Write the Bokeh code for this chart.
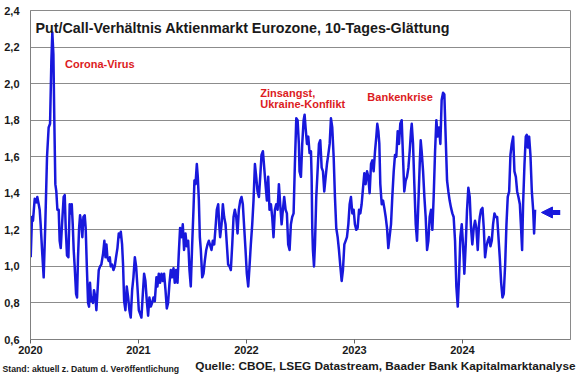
from bokeh.plotting import figure
from bokeh.layouts import column
from bokeh.models import (Label, Arrow, NormalHead, FixedTicker, CustomJSTickFormatter,
                          Range1d, ColumnDataSource)
from bokeh.embed import file_html
from bokeh.resources import INLINE

# ---------------- data (decimal year, put/call ratio, 10-day smoothing) ----------------
dates_2020 = [2020.002, 2020.014, 2020.023, 2020.039, 2020.054, 2020.063, 2020.076, 2020.085, 2020.094, 2020.107,
              2020.122, 2020.137, 2020.153, 2020.168, 2020.181, 2020.193, 2020.202, 2020.212, 2020.221, 2020.230,
              2020.239, 2020.249, 2020.261, 2020.270, 2020.280, 2020.292, 2020.307, 2020.317, 2020.326, 2020.338,
              2020.351, 2020.363, 2020.372, 2020.382, 2020.391, 2020.400, 2020.409, 2020.422, 2020.431, 2020.440,
              2020.450, 2020.459, 2020.471, 2020.480, 2020.490, 2020.502, 2020.511, 2020.521, 2020.533, 2020.542,
              2020.551, 2020.561, 2020.570, 2020.579, 2020.588, 2020.601, 2020.610, 2020.619, 2020.632, 2020.644,
              2020.656, 2020.672, 2020.684, 2020.694, 2020.703, 2020.712, 2020.724, 2020.734, 2020.743, 2020.755,
              2020.768, 2020.780, 2020.792, 2020.805, 2020.817]
values_2020 = [1.05, 1.27, 1.25, 1.37, 1.35, 1.38, 1.34, 1.31, 1.23, 1.09,
               0.94, 1.23, 1.60, 1.76, 1.78, 2.12, 2.28, 2.16, 1.78, 1.45,
               1.41, 1.31, 1.31, 1.14, 1.10, 1.23, 1.38, 1.39, 1.21, 1.06,
               1.05, 1.34, 1.29, 1.34, 1.23, 1.09, 1.00, 0.85, 0.83, 1.05,
               1.21, 1.28, 1.23, 1.16, 1.27, 1.28, 1.21, 1.01, 0.80, 0.78,
               0.91, 0.81, 0.83, 0.80, 0.87, 0.83, 0.76, 0.85, 0.98, 1.00,
               1.01, 1.07, 1.14, 1.05, 1.12, 1.05, 1.03, 1.05, 1.00, 1.01,
               0.98, 1.00, 1.05, 1.10, 1.18]

dates_2021a = [2020.826, 2020.836, 2020.848, 2020.857, 2020.867, 2020.879, 2020.891, 2020.904, 2020.916, 2020.928,
               2020.941, 2020.953, 2020.966, 2020.978, 2020.990, 2021.003, 2021.015, 2021.027, 2021.040, 2021.052,
               2021.064, 2021.077, 2021.089, 2021.101, 2021.114, 2021.126, 2021.138, 2021.151, 2021.166, 2021.175,
               2021.188, 2021.200, 2021.213, 2021.225, 2021.237, 2021.250, 2021.262, 2021.274, 2021.287, 2021.299,
               2021.311, 2021.324, 2021.336, 2021.348, 2021.361, 2021.373, 2021.385, 2021.398, 2021.410, 2021.422,
               2021.435, 2021.447, 2021.460, 2021.472, 2021.484, 2021.497, 2021.509, 2021.518, 2021.528, 2021.540,
               2021.549, 2021.559, 2021.568, 2021.577, 2021.590, 2021.602, 2021.614, 2021.627, 2021.639, 2021.651]
values_2021a = [1.16, 1.19, 1.12, 1.01, 0.81, 0.76, 0.89, 0.83, 0.76, 0.72,
                0.87, 0.94, 1.05, 1.00, 0.89, 0.76, 0.74, 0.72, 0.85, 0.96,
                0.92, 0.81, 0.73, 0.83, 0.78, 0.80, 0.83, 0.81, 0.94, 0.89,
                0.96, 0.91, 0.96, 0.92, 0.96, 0.87, 0.77, 0.80, 0.91, 0.98,
                0.94, 0.99, 0.91, 0.98, 0.91, 1.07, 1.21, 1.16, 1.23, 1.09,
                1.18, 1.11, 1.14, 0.98, 0.89, 1.12, 1.31, 1.47, 1.45, 1.56,
                1.49, 1.36, 1.16, 1.09, 0.94, 0.96, 1.03, 1.09, 1.12, 1.14]

dates_2022a = [2021.661, 2021.676, 2021.688, 2021.701, 2021.713, 2021.725, 2021.738, 2021.747, 2021.756, 2021.769,
               2021.781, 2021.793, 2021.806, 2021.818, 2021.830, 2021.843, 2021.855, 2021.868, 2021.880, 2021.892,
               2021.905, 2021.917, 2021.929, 2021.942, 2021.954, 2021.966, 2021.979, 2021.991,
               2022.003, 2022.016, 2022.028, 2022.040, 2022.053, 2022.065, 2022.078, 2022.090, 2022.102, 2022.115,
               2022.127, 2022.139, 2022.152, 2022.164, 2022.176, 2022.189, 2022.201, 2022.213, 2022.226, 2022.238,
               2022.250, 2022.263, 2022.275, 2022.288, 2022.300, 2022.312, 2022.325, 2022.337, 2022.349, 2022.362,
               2022.374, 2022.386, 2022.399, 2022.411, 2022.423, 2022.436, 2022.448, 2022.461, 2022.473, 2022.485]
values_2022a = [1.12, 1.09, 1.14, 1.12, 1.21, 1.31, 1.34, 1.23, 1.16, 1.23,
                1.34, 1.27, 1.23, 1.12, 1.01, 1.00, 0.98, 1.12, 1.27, 1.31,
                1.27, 1.18, 1.31, 1.36, 1.38, 1.34, 1.21, 1.09,
                0.96, 0.89, 1.00, 1.12, 1.23, 1.36, 1.56, 1.49, 1.41, 1.38,
                1.49, 1.61, 1.63, 1.54, 1.45, 1.36, 1.49, 1.31, 1.34, 1.27,
                1.16, 1.31, 1.34, 1.31, 1.45, 1.34, 1.23, 1.31, 1.38, 1.31,
                1.29, 1.12, 1.09, 1.23, 1.27, 1.29, 1.56, 1.81, 1.80, 1.67]

dates_2023a = [2022.491, 2022.504, 2022.516, 2022.529, 2022.538, 2022.547, 2022.560, 2022.572, 2022.584, 2022.597,
               2022.603, 2022.609, 2022.615, 2022.625, 2022.634, 2022.646, 2022.658, 2022.671, 2022.683, 2022.696,
               2022.708, 2022.720, 2022.733, 2022.745, 2022.757, 2022.770, 2022.782, 2022.794, 2022.807, 2022.819,
               2022.831, 2022.844, 2022.856, 2022.869, 2022.881, 2022.893, 2022.906, 2022.918, 2022.930, 2022.943,
               2022.955, 2022.967, 2022.980, 2022.992,
               2023.004, 2023.017, 2023.029, 2023.042, 2023.054, 2023.066, 2023.079, 2023.091, 2023.103, 2023.116,
               2023.128, 2023.140, 2023.153, 2023.165, 2023.177, 2023.190, 2023.202, 2023.211, 2023.221, 2023.230,
               2023.239, 2023.252, 2023.264, 2023.276, 2023.289, 2023.301, 2023.313]
values_2023a = [1.52, 1.49, 1.67, 1.80, 1.83, 1.76, 1.67, 1.71, 1.62, 1.63,
                1.49, 1.21, 1.09, 1.00, 1.12, 1.38, 1.52, 1.67, 1.69, 1.54,
                1.52, 1.41, 1.49, 1.56, 1.61, 1.67, 1.81, 1.76, 1.60, 1.38,
                1.21, 1.16, 1.09, 1.00, 0.92, 0.98, 1.12, 1.14, 1.16, 1.23,
                1.34, 1.38, 1.29, 1.31,
                1.23, 1.20, 1.21, 1.31, 1.29, 1.34, 1.43, 1.51, 1.45, 1.52,
                1.49, 1.40, 1.56, 1.58, 1.52, 1.63, 1.71, 1.78, 1.74, 1.67,
                1.45, 1.34, 1.36, 1.32, 1.27, 1.21, 1.10]

dates_2024a = [2023.338, 2023.350, 2023.363, 2023.375, 2023.387, 2023.400, 2023.412, 2023.424, 2023.437, 2023.449,
               2023.461, 2023.474, 2023.486, 2023.499, 2023.511, 2023.523, 2023.530, 2023.542, 2023.554, 2023.567,
               2023.579, 2023.591, 2023.604, 2023.613, 2023.622, 2023.635, 2023.647, 2023.659, 2023.672, 2023.684,
               2023.696, 2023.709, 2023.721, 2023.733, 2023.746, 2023.758, 2023.770, 2023.783, 2023.795, 2023.807,
               2023.820, 2023.832, 2023.844, 2023.857, 2023.869, 2023.881, 2023.894, 2023.906, 2023.918, 2023.931,
               2023.943, 2023.956, 2023.968, 2023.980, 2023.993,
               2024.005, 2024.017, 2024.030, 2024.042, 2024.054, 2024.067, 2024.079, 2024.091, 2024.104, 2024.116,
               2024.128, 2024.141, 2024.153]
values_2024a = [1.23, 1.38, 1.52, 1.61, 1.60, 1.74, 1.67, 1.78, 1.80, 1.60,
                1.41, 1.47, 1.49, 1.54, 1.63, 1.74, 1.78, 1.67, 1.45, 1.23,
                1.14, 1.34, 1.56, 1.69, 1.63, 1.52, 1.38, 1.27, 1.09, 1.14,
                1.27, 1.31, 1.20, 1.38, 1.63, 1.80, 1.71, 1.76, 1.67, 1.91,
                1.95, 1.94, 1.71, 1.47, 1.41, 1.36, 1.32, 1.29, 1.27, 1.14,
                0.89, 0.78, 0.94, 1.16, 1.23,
                1.12, 0.96, 1.12, 1.31, 1.43, 1.38, 1.21, 1.12, 1.21, 1.25,
                1.21, 1.09, 1.23]

dates_2024b = [2024.160, 2024.172, 2024.185, 2024.197, 2024.209, 2024.222, 2024.234, 2024.246, 2024.259, 2024.271,
               2024.283, 2024.296, 2024.308, 2024.321, 2024.333, 2024.345, 2024.358, 2024.370, 2024.382, 2024.395,
               2024.407, 2024.419, 2024.432, 2024.444, 2024.456, 2024.469, 2024.481, 2024.494, 2024.506, 2024.518,
               2024.531, 2024.543, 2024.552, 2024.561, 2024.574, 2024.586, 2024.595, 2024.605, 2024.617, 2024.629,
               2024.642, 2024.654, 2024.663, 2024.672]
values_2024b = [1.27, 1.31, 1.32, 1.21, 1.05, 1.11, 1.14, 1.16, 1.11, 1.14,
                1.23, 1.29, 1.27, 1.27, 1.16, 1.05, 0.91, 0.83, 0.85, 1.01,
                1.23, 1.38, 1.41, 1.61, 1.67, 1.71, 1.52, 1.49, 1.41, 1.38,
                1.34, 1.20, 1.09, 1.34, 1.56, 1.71, 1.72, 1.65, 1.71, 1.61,
                1.41, 1.31, 1.18, 1.31]

year_ticks = [2020, 2021, 2022, 2023, 2024]
y_ticks = [0.6, 0.8, 1.0, 1.2, 1.4, 1.6, 1.8, 2.0, 2.2, 2.4]

title_text = "Put/Call-Verhältnis Aktienmarkt Eurozone, 10-Tages-Glättung"
source_text = "Quelle: CBOE, LSEG Datastream, Baader Bank Kapitalmarktanalyse"
stand_text = "Stand: aktuell z. Datum d. Veröffentlichung"

# annotations: (text lines, x date, y level)
notes = [
    (["Corona-Virus"], 2020.320, 2.108),
    (["Zinsangst,", "Ukraine-Konflikt"], 2022.127, 1.950),
    (["Bankenkrise"], 2023.119, 1.928),
]
arrow_from, arrow_to, arrow_level = 2024.905, 2024.731, 1.295

# ---------------- build ----------------
dates, values = [], []
for d, v in [(dates_2020, values_2020), (dates_2021a, values_2021a), (dates_2022a, values_2022a),
             (dates_2023a, values_2023a), (dates_2024a, values_2024a), (dates_2024b, values_2024b)]:
    n = min(len(d), len(v))
    dates += d[:n]
    values += v[:n]

BLUE = "#1818dc"
RED = "#dc1b22"
FONT = "Liberation Sans"
TXT = "#1a1a1a"

src = ColumnDataSource(dict(t=dates, v=values))

p = figure(width=580, height=358, output_backend="svg", toolbar_location=None,
           x_range=Range1d(2020, 2025), y_range=Range1d(0.6, 2.4),
           min_border_left=30, min_border_right=10, min_border_top=10, min_border_bottom=19)
p.background_fill_color = "white"
p.border_fill_color = "white"
p.outline_line_color = "#8a8a8a"
p.outline_line_width = 1

p.line(x="t", y="v", source=src, line_color=BLUE, line_width=2.5, line_join="round")

# axes
p.xaxis.ticker = FixedTicker(ticks=year_ticks)
p.xaxis.formatter = CustomJSTickFormatter(code="return tick.toFixed(0)")
p.xaxis.major_tick_out = 4
p.xaxis.major_tick_in = 0
p.xaxis.minor_tick_line_color = None
p.xaxis.major_tick_line_color = "#606060"
p.xaxis.axis_line_color = "#808080"
p.xaxis.major_label_standoff = 2

p.yaxis.ticker = FixedTicker(ticks=y_ticks)
p.yaxis.formatter = CustomJSTickFormatter(code="return tick.toFixed(1).replace('.', ',')")
p.yaxis.major_tick_line_color = None
p.yaxis.minor_tick_line_color = None
p.yaxis.axis_line_color = "#808080"
p.yaxis.major_label_standoff = 5

for ax in (p.xaxis, p.yaxis):
    ax.major_label_text_font = FONT
    ax.major_label_text_font_style = "bold"
    ax.major_label_text_font_size = "11px"
    ax.major_label_text_color = TXT

p.xgrid.visible = False
p.ygrid.ticker = FixedTicker(ticks=y_ticks)
p.ygrid.grid_line_color = "#8c8c8c"
p.ygrid.grid_line_width = 1

# title inside frame (screen units relative to frame)
p.add_layout(Label(x=5, y=312, x_units="screen", y_units="screen", text=title_text,
                   text_font=FONT, text_font_style="bold", text_font_size="14.3px",
                   text_color=TXT, text_baseline="alphabetic"))

# red annotations
for lines, xd, yv in notes:
    for i, line in enumerate(lines):
        p.add_layout(Label(x=xd, y=yv, y_offset=-11 * i, text=line, text_font=FONT,
                           text_font_style="bold", text_font_size="11px", text_color=RED,
                           text_baseline="middle", text_align="left"))

# arrow at the right
p.add_layout(Arrow(end=NormalHead(size=11, fill_color=BLUE, line_color=BLUE, line_width=1),
                   x_start=arrow_from, y_start=arrow_level, x_end=arrow_to, y_end=arrow_level,
                   line_color=BLUE, line_width=5))

# footer strip (separate small figure so the texts are not clipped)
foot = figure(width=580, height=17, output_backend="svg", toolbar_location=None,
              x_range=Range1d(0, 1), y_range=Range1d(0, 1),
              x_axis_location=None, y_axis_location=None,
              min_border_left=0, min_border_right=0, min_border_top=0, min_border_bottom=0)
try:
    foot.frame_align = False
except Exception:
    pass
foot.outline_line_color = None
foot.grid.visible = False
foot.background_fill_color = "white"
foot.border_fill_color = "white"
foot.add_layout(Label(x=2, y=7, x_units="screen", y_units="screen", text=stand_text,
                      text_font=FONT, text_font_style="bold", text_font_size="8.7px",
                      text_color=TXT, text_baseline="middle", text_align="left"))
foot.add_layout(Label(x=575, y=10, x_units="screen", y_units="screen", text=source_text,
                      text_font=FONT, text_font_style="bold", text_font_size="11.8px",
                      text_color=TXT, text_baseline="middle", text_align="right"))

layout = column(p, foot, spacing=0)
open("out.html", "w").write(file_html(layout, INLINE))
